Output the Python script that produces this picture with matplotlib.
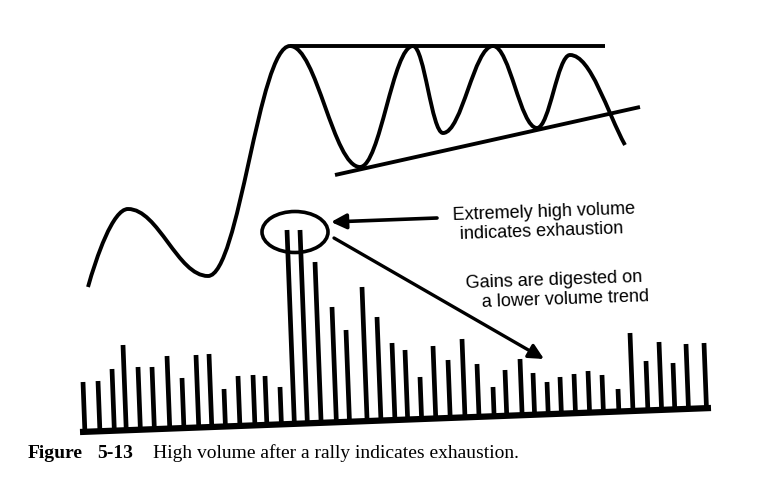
import numpy as np
import matplotlib
matplotlib.use("Agg")
import matplotlib.pyplot as plt
from matplotlib.path import Path
from matplotlib.patches import PathPatch, Ellipse

# price curve: turning points (pixel coords, y down)
precio_x = [88, 128, 208, 290, 360, 413, 443, 493, 537, 570, 625]
precio_y = [287, 209, 276, 46, 167, 46, 133, 46, 128, 55, 145]

# trend lines of the triangle
techo_x = [290, 605]
techo_y = [46, 46]
piso_x = [335, 640]
piso_y = [175, 107]

# volume bars: x at top, top y
vol_x = [83, 98, 112, 123, 138, 152, 167, 182, 196, 209, 224, 238, 253, 265,
         280, 287, 300, 315, 332, 346, 362, 377, 392, 405, 420, 433, 448, 462,
         477, 493, 505, 520, 533, 547, 560, 574, 588, 602, 618, 630, 646, 659,
         673, 686, 704]
vol_top = [382, 381, 369, 345, 367, 367, 356, 378, 355, 354, 389, 376, 375, 376,
           387, 230, 230, 262, 307, 330, 287, 317, 343, 350, 377, 346, 360, 339,
           364, 387, 370, 359, 373, 382, 377, 374, 371, 375, 389, 333, 361, 342,
           363, 344, 343]

# baseline of the volume panel
base_x = [80, 711]
base_y = [432, 408]

fig = plt.figure(figsize=(7.63, 4.90), dpi=100)
ax = fig.add_axes([0, 0, 1, 1])
ax.set_xlim(0, 763)
ax.set_ylim(490, 0)
ax.axis("off")

# smooth curve through the turning points (cubic bezier segments)
pts = np.column_stack([precio_x, precio_y]).astype(float)
n = len(pts)
tang = np.zeros_like(pts)
tang[:, 0] = 1.0
tang[0] = np.array([0.28, -1.0])
tang[-1] = np.array([0.55, 1.0])
verts = [tuple(pts[0])]
codes = [Path.MOVETO]
for i in range(n - 1):
    a, b = pts[i], pts[i + 1]
    d = np.hypot(*(b - a))
    ta = tang[i] / np.hypot(*tang[i])
    tb = tang[i + 1] / np.hypot(*tang[i + 1])
    ka = 0.38 * abs(b[0] - a[0]) if i > 0 else 0.35 * d
    kb = 0.38 * abs(b[0] - a[0]) if i + 1 < n - 1 else 0.35 * d
    c1 = a + ta * ka
    c2 = b - tb * kb
    verts += [tuple(c1), tuple(c2), tuple(b)]
    codes += [Path.CURVE4] * 3
ax.add_patch(PathPatch(Path(verts, codes), fill=False, lw=2.8, color="black",
                       capstyle="butt"))

ax.plot(techo_x, techo_y, color="black", lw=2.8, solid_capstyle="butt")
ax.plot(piso_x, piso_y, color="black", lw=2.8, solid_capstyle="butt")

# volume bars, tilted like the rest of the panel
pend = (base_y[1] - base_y[0]) / (base_x[1] - base_x[0])
for x, t in zip(vol_x, vol_top):
    yb = base_y[0] + pend * (x - base_x[0]) + 2
    xb = x - pend * (yb - t)
    ax.plot([x, xb], [t, yb], color="black", lw=3.4, solid_capstyle="butt")
ax.plot(base_x, base_y, color="black", lw=4.5, solid_capstyle="butt")

ax.add_patch(Ellipse((295, 232), 66, 41, fill=False, lw=2.6, color="black"))

ax.annotate("", xy=(331, 222), xytext=(437, 218),
            arrowprops=dict(arrowstyle="-|>,head_length=0.9,head_width=0.45",
                            lw=2.6, color="black", shrinkA=0, shrinkB=0))
ax.annotate("", xy=(544, 359), xytext=(334, 238),
            arrowprops=dict(arrowstyle="-|>,head_length=0.9,head_width=0.45",
                            lw=2.4, color="black", shrinkA=0, shrinkB=0))

fuente = dict(family="Liberation Sans", fontsize=13, color="black",
              rotation=2, rotation_mode="anchor", ha="left", va="center")
ax.text(453, 216, "Extremely high volume", **fuente)
ax.text(460, 235, "indicates exhaustion", **fuente)
ax.text(466, 284, "Gains are digested on", **fuente)
ax.text(482, 303, "a lower volume trend", **fuente)

ax.text(28, 453, "Figure", family="Liberation Serif", fontsize=14,
        weight="bold", ha="left", va="center")
ax.text(133, 453, "5-13", family="Liberation Serif", fontsize=14,
        weight="bold", ha="right", va="center")
ax.text(153, 453, "High volume after a rally indicates exhaustion.",
        family="Liberation Serif", fontsize=14, ha="left", va="center")

plt.savefig("out.png", dpi=100)
